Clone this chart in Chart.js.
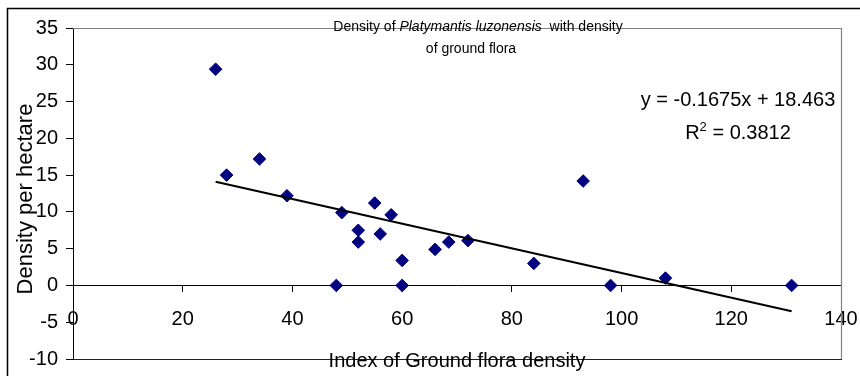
<!DOCTYPE html>
<html>
<head>
<meta charset="utf-8">
<script src="https://cdn.jsdelivr.net/npm/chart.js@4.4.1/dist/chart.umd.min.js"></script>
<style>
  html, body { margin: 0; padding: 0; background: #ffffff; }
  #wrap { width: 860px; height: 376px; position: relative; }
</style>
</head>
<body>
<div id="wrap"><canvas id="c" width="860" height="376"></canvas></div>
<script>
// ---- Data ----
const groundIndex = [26, 28, 34, 39, 48, 49, 52, 52, 55, 56, 58, 60, 60, 66, 68.5, 72, 84, 93, 98, 108, 131];
const density     = [29.4, 15.0, 17.2, 12.2, 0, 9.9, 7.5, 5.9, 11.2, 7.0, 9.6, 3.4, 0, 4.9, 5.9, 6.1, 3.0, 14.2, 0, 1.0, 0];
const trendX = [26, 131];
const trendY = [14.1, -3.5];
const xTicks = [0, 20, 40, 60, 80, 100, 120, 140];
const yTicks = [-10, -5, 0, 5, 10, 15, 20, 25, 30, 35];
const titleLine1 = ["Density of ", "Platymantis luzonensis", "  with density"];
const titleLine2 = "of ground flora";
const xTitle = "Index of Ground flora density";
const yTitle = "Density per hectare";
const eqText = "y = -0.1675x + 18.463";
const r2Value = "0.3812";

const FONT = "'Liberation Sans', Arial, Helvetica, sans-serif";

const points = groundIndex.map((x, i) => ({ x: x, y: density[i] }));
const trend = trendX.map((x, i) => ({ x: x, y: trendY[i] }));

function noPad(scale) {
  scale.paddingLeft = 0; scale.paddingRight = 0;
  scale.paddingTop = 0; scale.paddingBottom = 0;
}

const framePlugin = {
  id: 'framePlugin',
  beforeDraw(chart) {
    const ctx = chart.ctx;
    ctx.save();
    ctx.fillStyle = '#ffffff';
    ctx.fillRect(0, 0, chart.width, chart.height);
    ctx.strokeStyle = '#000000';
    ctx.lineWidth = 1.5;
    ctx.beginPath();
    ctx.moveTo(7.5, chart.height + 2);
    ctx.lineTo(7.5, 8.5);
    ctx.lineTo(chart.width + 2, 8.5);
    ctx.stroke();
    ctx.restore();
  },
  beforeDatasetsDraw(chart) {
    const ctx = chart.ctx;
    const a = chart.chartArea;
    ctx.save();
    ctx.lineWidth = 1.2;
    ctx.strokeStyle = '#808080';
    ctx.beginPath();
    ctx.moveTo(a.left, a.top + 0.5);
    ctx.lineTo(a.right + 0.5, a.top + 0.5);
    ctx.lineTo(a.right + 0.5, a.bottom);
    ctx.stroke();
    ctx.strokeStyle = '#222222';
    ctx.lineWidth = 1;
    ctx.beginPath();
    ctx.moveTo(a.left, a.bottom + 0.5);
    ctx.lineTo(a.right + 1, a.bottom + 0.5);
    ctx.stroke();
    ctx.restore();
  },
  afterDraw(chart) {
    const ctx = chart.ctx;
    ctx.save();
    ctx.fillStyle = '#000000';
    // chart title line 1 (mixed normal / italic)
    ctx.textBaseline = 'alphabetic';
    ctx.textAlign = 'left';
    const fonts = ["14px " + FONT, "italic 14px " + FONT, "14px " + FONT];
    let widths = titleLine1.map((t, i) => { ctx.font = fonts[i]; return ctx.measureText(t).width; });
    let total = widths.reduce((s, w) => s + w, 0);
    let x = 478 - total / 2;
    titleLine1.forEach((t, i) => { ctx.font = fonts[i]; ctx.fillText(t, x, 31); x += widths[i]; });
    ctx.font = "14px " + FONT;
    ctx.textAlign = 'center';
    ctx.fillText(titleLine2, 471, 53);

    // x axis title
    ctx.font = "20px " + FONT;
    ctx.fillText(xTitle, 457, 367);

    // y axis title
    ctx.save();
    ctx.translate(26, 199);
    ctx.rotate(-Math.PI / 2);
    ctx.font = "22px " + FONT;
    ctx.textBaseline = 'middle';
    ctx.fillText(yTitle, 0, 0);
    ctx.restore();

    // regression equation
    ctx.font = "20px " + FONT;
    ctx.textAlign = 'center';
    ctx.fillText(eqText, 738, 106);
    // R^2 line
    ctx.textAlign = 'left';
    const partR = "R", partSup = "2", partRest = " = " + r2Value;
    ctx.font = "20px " + FONT; const wR = ctx.measureText(partR).width; const wRest = ctx.measureText(partRest).width;
    ctx.font = "13px " + FONT; const wS = ctx.measureText(partSup).width;
    let rx = 738 - (wR + wS + wRest) / 2;
    ctx.font = "20px " + FONT; ctx.fillText(partR, rx, 139); rx += wR;
    ctx.font = "13px " + FONT; ctx.fillText(partSup, rx, 131); rx += wS;
    ctx.font = "20px " + FONT; ctx.fillText(partRest, rx, 139);
    ctx.restore();
  }
};

new Chart(document.getElementById('c'), {
  type: 'scatter',
  data: {
    datasets: [
      {
        label: 'Trend',
        data: trend,
        showLine: true,
        borderColor: '#000000',
        borderWidth: 2,
        pointRadius: 0,
        pointHoverRadius: 0,
        fill: false,
        order: 0
      },
      {
        label: 'Density',
        data: points,
        pointStyle: 'rectRot',
        pointRadius: 6.3,
        pointHoverRadius: 6.3,
        backgroundColor: '#000080',
        borderColor: '#000080',
        borderWidth: 1,
        order: 1
      }
    ]
  },
  options: {
    responsive: false,
    animation: false,
    devicePixelRatio: 1,
    layout: { padding: { top: 28, right: 19, bottom: 17, left: 0 } },
    plugins: { legend: { display: false }, tooltip: { enabled: false }, title: { display: false } },
    events: [],
    scales: {
      x: {
        type: 'linear',
        position: { y: 0 },
        min: 0, max: 140,
        afterBuildTicks(scale) { scale.ticks = xTicks.map(v => ({ value: v })); },
        afterFit(scale) { noPad(scale); },
        ticks: { color: '#000000', font: { size: 20, family: FONT }, padding: 16, maxRotation: 0, autoSkip: false },
        grid: { drawOnChartArea: false, drawTicks: true, tickLength: 6, color: '#000000', tickColor: '#000000' },
        border: { display: true, color: '#000000', width: 1 }
      },
      y: {
        type: 'linear',
        position: 'left',
        min: -10, max: 35,
        afterBuildTicks(scale) { scale.ticks = yTicks.map(v => ({ value: v })); },
        afterFit(scale) { scale.width = 73; noPad(scale); },
        ticks: { color: '#000000', font: { size: 20, family: FONT }, padding: 8, autoSkip: false },
        grid: { drawOnChartArea: false, drawTicks: true, tickLength: 7, color: '#000000', tickColor: '#000000' },
        border: { display: true, color: '#000000', width: 1 }
      }
    }
  },
  plugins: [framePlugin]
});
</script>
</body>
</html>
